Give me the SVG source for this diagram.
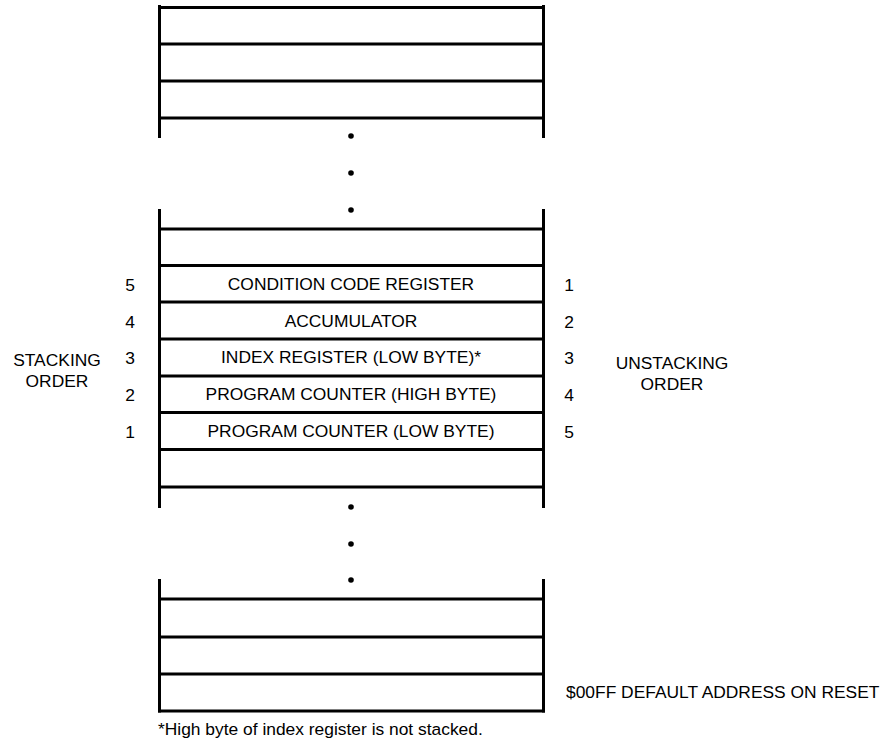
<svg xmlns="http://www.w3.org/2000/svg" width="888" height="745" viewBox="0 0 888 745">
<style>
.ln{stroke:#000;stroke-width:3;fill:none}
.t{font-family:"Liberation Sans",Arial,sans-serif;font-size:17.4px;fill:#000}
.m{text-anchor:middle}
.dot{fill:#000}
</style>
<rect width="888" height="745" fill="#fff"/>
<g id="stack-top">
<path class="ln" d="M159.5,5V138M543.5,5V138"/>
<path class="ln" d="M158,7.5H545M158,44H545M158,81H545M158,118H545"/>
</g>
<g id="dots-1">
<circle class="dot" cx="351" cy="136" r="2.8"/>
<circle class="dot" cx="351" cy="173" r="2.8"/>
<circle class="dot" cx="351" cy="210" r="2.8"/>
</g>
<g id="stack-middle">
<path class="ln" d="M159.5,209V508M543.5,209V508"/>
<path class="ln" d="M158,229H545M158,265.5H545M158,302H545M158,339H545M158,376H545M158,412.5H545M158,449.5H545M158,487H545"/>
</g>
<g id="ccr"><text class="t m" x="351" y="290">CONDITION CODE REGISTER</text><text class="t m" x="130" y="291">5</text><text class="t m" x="569" y="291">1</text></g>
<g id="acc"><text class="t m" x="351" y="327">ACCUMULATOR</text><text class="t m" x="130" y="328">4</text><text class="t m" x="569" y="328">2</text></g>
<g id="ixl"><text class="t m" x="351" y="363">INDEX REGISTER (LOW BYTE)*</text><text class="t m" x="130" y="364">3</text><text class="t m" x="569" y="364">3</text></g>
<g id="pch"><text class="t m" x="351" y="400">PROGRAM COUNTER (HIGH BYTE)</text><text class="t m" x="130" y="401">2</text><text class="t m" x="569" y="401">4</text></g>
<g id="pcl"><text class="t m" x="351" y="437">PROGRAM COUNTER (LOW BYTE)</text><text class="t m" x="130" y="438">1</text><text class="t m" x="569" y="438">5</text></g>
<g id="stacking-order"><text class="t m" x="57" y="366">STACKING</text><text class="t m" x="57" y="387">ORDER</text></g>
<g id="unstacking-order"><text class="t m" x="672" y="369">UNSTACKING</text><text class="t m" x="672" y="390">ORDER</text></g>
<g id="dots-2">
<circle class="dot" cx="351" cy="507" r="2.8"/>
<circle class="dot" cx="351" cy="544" r="2.8"/>
<circle class="dot" cx="351" cy="580" r="2.8"/>
</g>
<g id="stack-bottom">
<path class="ln" d="M159.5,579V712.5M543.5,579V712.5"/>
<path class="ln" d="M158,599H545M158,637H545M158,674H545M158,711H545"/>
</g>
<g id="reset-address"><text class="t" x="566" y="698">$00FF DEFAULT ADDRESS ON RESET</text></g>
<g id="footnote"><text class="t" x="158" y="735">*High byte of index register is not stacked.</text></g>
<g id="connectors"></g>
</svg>
